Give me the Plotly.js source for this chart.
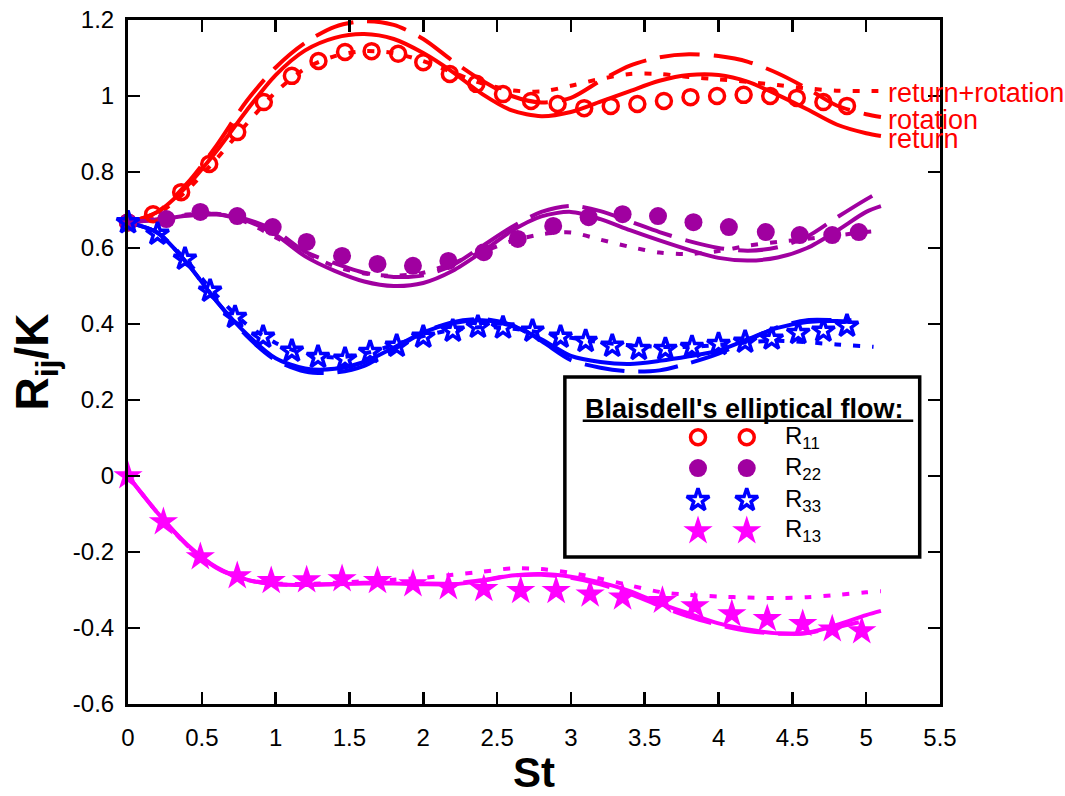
<!DOCTYPE html>
<html>
<head>
<meta charset="utf-8">
<script src="https://cdn.plot.ly/plotly-3.0.1.min.js"></script>
<style>html,body{margin:0;padding:0;background:#fff;}#chart{width:1065px;height:796px;}</style>
</head>
<body>
<div id="chart"></div>
<script>
// ---- model curves (St grid) ----
const stModel  = [0,0.2,0.4,0.6,0.8,1.0,1.2,1.4,1.6,1.8,2.0,2.2,2.4,2.6,2.8,3.0,3.2,3.4,3.6,3.8,4.0,4.2,4.4,4.6,4.8,5.0,5.1];
const stShort  = [0,0.2,0.4,0.6,0.8,1.0,1.2,1.4,1.6,1.8,2.0,2.2,2.4,2.6,2.8,3.0,3.2,3.4,3.6,3.8,4.0,4.2,4.4,4.6,4.8,4.9];
const stMid    = [0,0.2,0.4,0.6,0.8,1.0,1.2,1.4,1.6,1.8,2.0,2.2,2.4,2.6,2.8,3.0,3.2,3.4,3.6,3.8,4.0,4.2,4.4,4.6,4.8,5.05];
const stEnd13  = [0,0.2,0.4,0.6,0.8,1.0,1.2,1.4,1.6,1.8,2.0,2.2,2.4,2.6,2.8,3.0,3.2,3.4,3.6,3.8,4.0,4.2,4.4,4.6,4.8,4.95];

const r11Return   = [0.667,0.695,0.763,0.855,0.96,1.055,1.12,1.153,1.163,1.15,1.113,1.063,1.005,0.962,0.947,0.958,0.985,1.013,1.04,1.055,1.055,1.037,1.003,0.965,0.925,0.902,0.895];
const r11Rotation = [0.667,0.695,0.77,0.87,0.985,1.075,1.14,1.182,1.197,1.187,1.15,1.092,1.04,1.0,0.983,0.995,1.04,1.08,1.102,1.11,1.105,1.09,1.06,1.02,0.975,0.952,0.945];
const r11Both     = [0.667,0.69,0.752,0.835,0.925,1.01,1.072,1.105,1.118,1.113,1.092,1.062,1.033,1.015,1.012,1.027,1.045,1.058,1.058,1.05,1.044,1.037,1.029,1.02,1.014,1.013,1.013];

const r22Return   = [0.667,0.675,0.685,0.688,0.672,0.635,0.578,0.54,0.512,0.5,0.508,0.54,0.59,0.645,0.683,0.695,0.676,0.647,0.62,0.595,0.574,0.567,0.575,0.6,0.645,0.695,0.71];
const r22Rotation = [0.667,0.675,0.686,0.69,0.676,0.645,0.59,0.56,0.535,0.524,0.528,0.555,0.605,0.655,0.695,0.711,0.697,0.67,0.642,0.618,0.6,0.593,0.602,0.63,0.68,0.728,0.75];
const r22Both     = [0.667,0.676,0.688,0.69,0.668,0.628,0.588,0.552,0.533,0.527,0.535,0.56,0.59,0.618,0.636,0.641,0.622,0.603,0.588,0.584,0.592,0.606,0.616,0.624,0.633,0.642,0.645];

const r33Return   = [0.667,0.64,0.56,0.46,0.375,0.31,0.283,0.282,0.3,0.338,0.378,0.402,0.41,0.395,0.36,0.316,0.3,0.295,0.303,0.315,0.33,0.36,0.39,0.405,0.408,0.405];
const r33Rotation = [0.667,0.64,0.56,0.46,0.37,0.305,0.275,0.272,0.29,0.333,0.378,0.405,0.413,0.397,0.355,0.305,0.285,0.275,0.278,0.297,0.322,0.357,0.392,0.41,0.41,0.41];
const r33Both     = [0.667,0.64,0.565,0.475,0.4,0.35,0.322,0.312,0.322,0.345,0.368,0.385,0.392,0.388,0.377,0.364,0.352,0.344,0.34,0.34,0.345,0.352,0.356,0.352,0.346,0.34];

const r13Return   = [0,-0.097,-0.18,-0.24,-0.272,-0.285,-0.287,-0.285,-0.283,-0.283,-0.285,-0.285,-0.276,-0.262,-0.258,-0.265,-0.28,-0.303,-0.335,-0.362,-0.388,-0.404,-0.414,-0.413,-0.392,-0.366,-0.355];
const r13Rotation = [0,-0.097,-0.182,-0.242,-0.273,-0.285,-0.286,-0.284,-0.281,-0.281,-0.283,-0.283,-0.274,-0.262,-0.26,-0.268,-0.285,-0.31,-0.342,-0.37,-0.392,-0.408,-0.415,-0.413,-0.398,-0.385];
const r13Both     = [0,-0.097,-0.182,-0.242,-0.272,-0.283,-0.284,-0.281,-0.277,-0.273,-0.268,-0.26,-0.252,-0.243,-0.245,-0.255,-0.27,-0.288,-0.305,-0.313,-0.317,-0.32,-0.321,-0.319,-0.313,-0.306,-0.303];

// ---- Blaisdell's elliptical flow data ----
const st11 = [0,0.17,0.36,0.55,0.74,0.92,1.11,1.29,1.47,1.65,1.83,2.0,2.18,2.36,2.54,2.73,2.91,3.09,3.27,3.45,3.63,3.81,3.99,4.17,4.35,4.53,4.71,4.87];
const d11  = [0.667,0.689,0.747,0.821,0.905,0.984,1.053,1.092,1.116,1.118,1.111,1.089,1.058,1.032,1.005,0.987,0.979,0.968,0.974,0.979,0.987,0.997,1.0,1.003,1.0,0.995,0.984,0.974];
const st22 = [0,0.26,0.49,0.74,0.98,1.21,1.45,1.69,1.93,2.17,2.41,2.64,2.88,3.12,3.35,3.59,3.83,4.07,4.32,4.55,4.77,4.95];
const d22  = [0.668,0.676,0.695,0.684,0.655,0.616,0.579,0.558,0.553,0.566,0.589,0.624,0.658,0.681,0.689,0.684,0.668,0.655,0.642,0.634,0.634,0.642];
const st33 = [0,0.2,0.386,0.556,0.725,0.915,1.11,1.287,1.47,1.64,1.82,2.0,2.2,2.37,2.54,2.74,2.93,3.1,3.28,3.46,3.64,3.82,4.0,4.18,4.36,4.54,4.71,4.87];
const d33  = [0.667,0.637,0.571,0.487,0.418,0.366,0.329,0.313,0.308,0.326,0.342,0.366,0.382,0.392,0.39,0.382,0.366,0.355,0.342,0.334,0.334,0.339,0.347,0.353,0.361,0.376,0.382,0.395];
const st13 = [0,0.24,0.49,0.74,0.97,1.21,1.45,1.69,1.93,2.17,2.41,2.66,2.9,3.13,3.35,3.62,3.84,4.09,4.33,4.57,4.77,4.97];
const d13  = [0.0,-0.121,-0.213,-0.263,-0.276,-0.274,-0.271,-0.276,-0.284,-0.292,-0.297,-0.302,-0.302,-0.311,-0.319,-0.328,-0.342,-0.363,-0.376,-0.389,-0.403,-0.408];

// ---- ticks and labels ----
const xTickVals = [0,0.5,1,1.5,2,2.5,3,3.5,4,4.5,5,5.5];
const xTickText = ['0','0.5','1','1.5','2','2.5','3','3.5','4','4.5','5','5.5'];
const yTickVals = [-0.6,-0.4,-0.2,0,0.2,0.4,0.6,0.8,1,1.2];
const yTickText = ['-0.6','-0.4','-0.2','0','0.2','0.4','0.6','0.8','1','1.2'];
const modelNames = ['return+rotation','rotation','return'];
const legendNames = ['R<sub>11</sub>','R<sub>22</sub>','R<sub>33</sub>','R<sub>13</sub>'];
const legendTitle = "Blaisdell's elliptical flow:";

const RED='#FF0000', PUR='#A000A0', BLU='#0000FF', MAG='#FF00FF';
const LW = 4;
const DASH_LONG = '40px,14px';
const DASH_DOT = '7px,12px';

function line(x, y, color, dash) {
  return {x: x, y: y, type: 'scatter', mode: 'lines', line: {color: color, width: LW, dash: dash, shape: 'spline', smoothing: 0.8}, showlegend: false, hoverinfo: 'skip'};
}

const traces = [
  line(stModel, r11Return, RED, 'solid'),
  line(stModel, r11Rotation, RED, DASH_LONG),
  line(stModel, r11Both, RED, DASH_DOT),
  line(stModel, r22Return, PUR, 'solid'),
  line(stModel, r22Rotation, PUR, DASH_LONG),
  line(stModel, r22Both, PUR, DASH_DOT),
  line(stShort, r33Return, BLU, 'solid'),
  line(stShort, r33Rotation, BLU, DASH_LONG),
  line(stMid, r33Both, BLU, DASH_DOT),
  line(stModel, r13Return, MAG, 'solid'),
  line(stEnd13, r13Rotation, MAG, DASH_LONG),
  line(stModel, r13Both, MAG, DASH_DOT),
];

const mk11 = {symbol: 'circle-open', size: 15, color: RED, line: {color: RED, width: 3.5}};
const mk22 = {symbol: 'circle', size: 18, color: PUR, line: {width: 0}};
const mk33 = {symbol: 'star-open', size: 17, color: BLU, line: {color: BLU, width: 3.5}};
const mk13 = {symbol: 'star', size: 22, color: MAG, line: {width: 0}};

traces.push({x: st11, y: d11, type: 'scatter', mode: 'markers', marker: mk11, showlegend: false, cliponaxis: false});
traces.push({x: st22, y: d22, type: 'scatter', mode: 'markers', marker: mk22, showlegend: false, cliponaxis: false});
traces.push({x: st33, y: d33, type: 'scatter', mode: 'markers', marker: mk33, showlegend: false, cliponaxis: false});
traces.push({x: st13, y: d13, type: 'scatter', mode: 'markers', marker: mk13, showlegend: false, cliponaxis: false});

// legend box symbols (overlay axes with 0..1 range)
const legX = [0.702, 0.762];
const legY = [0.390, 0.345, 0.298, 0.253];
const legMarkers = [mk11, mk22, mk33, mk13];
legMarkers.forEach(function(m, i) {
  traces.push({x: legX, y: [legY[i], legY[i]], xaxis: 'x2', yaxis: 'y2', type: 'scatter', mode: 'markers', marker: m, showlegend: false, hoverinfo: 'skip', cliponaxis: false});
});

const FONT = 'Liberation Sans, Arial, Helvetica, sans-serif';
const annotations = [];
const labelY = [1.008, 0.937, 0.887];
modelNames.forEach(function(n, i) {
  annotations.push({x: 5.135, y: labelY[i], xref: 'x', yref: 'y', text: n, showarrow: false, xanchor: 'left', yanchor: 'middle', font: {family: FONT, size: 27, color: RED}});
});
annotations.push({x: 0.560, y: 0.431, xref: 'paper', yref: 'paper', text: '<b>' + legendTitle + '</b>', showarrow: false, xanchor: 'left', yanchor: 'middle', font: {family: FONT, size: 27, color: '#000'}});
legendNames.forEach(function(n, i) {
  annotations.push({x: 0.807, y: legY[i], xref: 'paper', yref: 'paper', text: n, showarrow: false, xanchor: 'left', yanchor: 'middle', font: {family: FONT, size: 24, color: '#000'}});
});

const layout = {
  width: 1065, height: 796,
  margin: {l: 128, r: 125, t: 20, b: 92, pad: 0},
  paper_bgcolor: '#fff', plot_bgcolor: '#fff',
  font: {family: FONT, size: 24, color: '#000'},
  showlegend: false,
  xaxis: {
    range: [0, 5.5], tickvals: xTickVals, ticktext: xTickText,
    ticks: 'inside', ticklen: 12, tickwidth: 2.5, tickcolor: '#000',
    showline: true, linewidth: 3, linecolor: '#000', mirror: 'ticks',
    showgrid: false, zeroline: false, ticklabelstandoff: 10,
    tickfont: {family: FONT, size: 24, color: '#000'},
    title: {text: '<b>St</b>', font: {family: FONT, size: 42, color: '#000'}, standoff: 4}
  },
  yaxis: {
    range: [-0.6, 1.2], tickvals: yTickVals, ticktext: yTickText,
    ticks: 'inside', ticklen: 12, tickwidth: 2.5, tickcolor: '#000',
    showline: true, linewidth: 3, linecolor: '#000', mirror: 'ticks',
    showgrid: false, zeroline: false, ticklabelstandoff: 6,
    tickfont: {family: FONT, size: 24, color: '#000'},
    title: {text: '<b>R<sub>ij</sub>/K</b>', font: {family: FONT, size: 46, color: '#000'}, standoff: 10}
  },
  xaxis2: {overlaying: 'x', range: [0, 1], visible: false, fixedrange: true},
  yaxis2: {overlaying: 'y', range: [0, 1], visible: false, fixedrange: true},
  shapes: [
    {type: 'rect', xref: 'paper', yref: 'paper', x0: 0.538, x1: 0.975, y0: 0.215, y1: 0.478, line: {color: '#000', width: 3.5}, fillcolor: 'rgba(255,255,255,0)', layer: 'below'},
    {type: 'line', xref: 'paper', yref: 'paper', x0: 0.560, x1: 0.967, y0: 0.414, y1: 0.414, line: {color: '#000', width: 2.5}, layer: 'above'}
  ],
  annotations: annotations
};

Plotly.newPlot('chart', traces, layout, {staticPlot: true, displayModeBar: false});
</script>
</body>
</html>
